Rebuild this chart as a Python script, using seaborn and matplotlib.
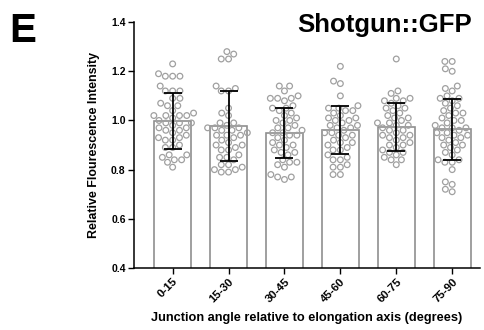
import matplotlib
matplotlib.use("Agg")
import matplotlib.pyplot as plt
import seaborn as sns
import numpy as np
import pandas as pd

categories = ["0-15", "15-30", "30-45", "45-60", "60-75", "75-90"]
means = [0.997, 0.978, 0.950, 0.961, 0.972, 0.964]
sds = [0.113, 0.143, 0.101, 0.099, 0.097, 0.125]

pts_0_15 = [1.23, 1.19, 1.18, 1.18, 1.18, 1.14, 1.12, 1.12, 1.12, 1.09, 1.09, 1.07,
            1.06, 1.06, 1.04, 1.03, 1.02, 1.02, 1.02, 1.02, 1.01, 1.00, 0.99, 0.99,
            0.99, 0.98, 0.97, 0.97, 0.96, 0.96, 0.95, 0.94, 0.93, 0.93, 0.92, 0.92,
            0.90, 0.89, 0.89, 0.86, 0.86, 0.85, 0.84, 0.84, 0.83, 0.81]
pts_15_30 = [1.28, 1.27, 1.25, 1.25, 1.14, 1.13, 1.12, 1.12, 1.05, 1.03, 1.02, 0.99,
             0.99, 0.98, 0.97, 0.97, 0.97, 0.96, 0.96, 0.95, 0.94, 0.94, 0.94, 0.93,
             0.92, 0.91, 0.90, 0.90, 0.89, 0.88, 0.88, 0.86, 0.85, 0.85, 0.84, 0.82,
             0.82, 0.81, 0.80, 0.80, 0.79, 0.79]
pts_30_45 = [1.14, 1.14, 1.12, 1.10, 1.09, 1.09, 1.09, 1.08, 1.06, 1.05, 1.05, 1.04,
             1.03, 1.02, 1.01, 1.00, 1.00, 0.99, 0.98, 0.97, 0.97, 0.96, 0.95, 0.95,
             0.94, 0.94, 0.93, 0.92, 0.91, 0.90, 0.90, 0.89, 0.88, 0.87, 0.87, 0.86,
             0.84, 0.83, 0.83, 0.82, 0.81, 0.78, 0.77, 0.77, 0.76]
pts_45_60 = [1.22, 1.16, 1.15, 1.10, 1.06, 1.05, 1.05, 1.04, 1.04, 1.03, 1.02, 1.01,
             1.01, 1.00, 1.00, 0.99, 0.98, 0.98, 0.97, 0.97, 0.96, 0.95, 0.95, 0.94,
             0.94, 0.93, 0.92, 0.91, 0.91, 0.90, 0.89, 0.88, 0.88, 0.86, 0.85, 0.84,
             0.84, 0.82, 0.81, 0.81, 0.78, 0.78]
pts_60_75 = [1.25, 1.12, 1.11, 1.09, 1.09, 1.08, 1.08, 1.07, 1.06, 1.05, 1.05, 1.04,
             1.03, 1.02, 1.01, 1.01, 1.00, 0.99, 0.99, 0.98, 0.98, 0.97, 0.96, 0.96,
             0.95, 0.94, 0.94, 0.93, 0.93, 0.92, 0.91, 0.90, 0.90, 0.89, 0.88, 0.87,
             0.87, 0.86, 0.85, 0.84, 0.84, 0.82]
pts_75_90 = [1.24, 1.24, 1.21, 1.20, 1.14, 1.13, 1.12, 1.10, 1.09, 1.09, 1.08, 1.07,
             1.06, 1.05, 1.04, 1.03, 1.03, 1.02, 1.01, 1.00, 1.00, 0.99, 0.98, 0.97,
             0.97, 0.97, 0.96, 0.95, 0.95, 0.94, 0.94, 0.93, 0.93, 0.92, 0.91, 0.90,
             0.90, 0.89, 0.88, 0.87, 0.86, 0.84, 0.84, 0.83, 0.83, 0.80, 0.75, 0.74,
             0.72, 0.71]

y_ticks = [0.4, 0.6, 0.8, 1.0, 1.2, 1.4]

all_pts = [pts_0_15, pts_15_30, pts_30_45, pts_45_60, pts_60_75, pts_75_90]
df_pts = pd.DataFrame({
    "cat": np.concatenate([[c] * len(p) for c, p in zip(categories, all_pts)]),
    "val": np.concatenate(all_pts),
})
df_bar = pd.DataFrame({"cat": categories, "mean": means, "sd": sds})

sns.set_theme(style="ticks")
plt.rcParams["font.family"] = ["Liberation Sans", "DejaVu Sans"]
plt.rcParams["font.weight"] = "bold"
plt.rcParams["text.color"] = "black"
plt.rcParams["axes.labelcolor"] = "black"
plt.rcParams["xtick.color"] = "black"
plt.rcParams["ytick.color"] = "black"

fig = plt.figure(figsize=(4.84, 3.30), dpi=100)
ax = fig.add_axes([0.277, 0.188, 0.715, 0.745])

sns.barplot(data=df_bar, x="cat", y="mean", order=categories, ax=ax,
            color="white", edgecolor="#8f8f8f", linewidth=1.2, width=0.665,
            errorbar=None, zorder=1)
n_before = len(ax.collections)
sns.swarmplot(data=df_pts, x="cat", y="val", order=categories, ax=ax,
              color="#a0a0a0", size=4.1, linewidth=0.9, edgecolor="#a0a0a0",
              zorder=2, warn_thresh=1.0)
for coll in ax.collections[n_before:]:
    coll.set_facecolor("none")
    coll.set_edgecolor("#a0a0a0")

xpos = np.arange(len(categories))
ax.errorbar(xpos, df_bar["mean"], yerr=df_bar["sd"], fmt="none", ecolor="black",
            elinewidth=1.3, capsize=6.5, capthick=1.3, zorder=3)

ax.set_ylim(0.4, 1.4)
ax.set_xlim(-0.69, 5.5)
ax.set_yticks(y_ticks)
ax.set_yticklabels([f"{t:.1f}" for t in y_ticks], fontsize=7.5, fontweight="bold")
ax.set_xticks(xpos)
ax.set_xticklabels(categories, rotation=45, ha="right", rotation_mode="anchor",
                   fontsize=8.2, fontweight="bold")
ax.tick_params(axis="both", length=4, width=1, color="black", pad=2)
for s in ["left", "bottom"]:
    ax.spines[s].set_linewidth(1.1)
    ax.spines[s].set_color("black")
sns.despine(ax=ax)

ax.set_ylabel("Relative Flourescence Intensity", fontsize=8.9, fontweight="bold", labelpad=8)
ax.set_xlabel("Junction angle relative to elongation axis (degrees)", fontsize=9.2,
              fontweight="bold", labelpad=6)

fig.text(0.975, 0.903, "Shotgun::GFP", ha="right", va="baseline", fontsize=18.5,
         fontweight="bold")
fig.text(0.02, 0.873, "E", ha="left", va="baseline", fontsize=29, fontweight="bold")

fig.savefig("out.png", dpi=100)
